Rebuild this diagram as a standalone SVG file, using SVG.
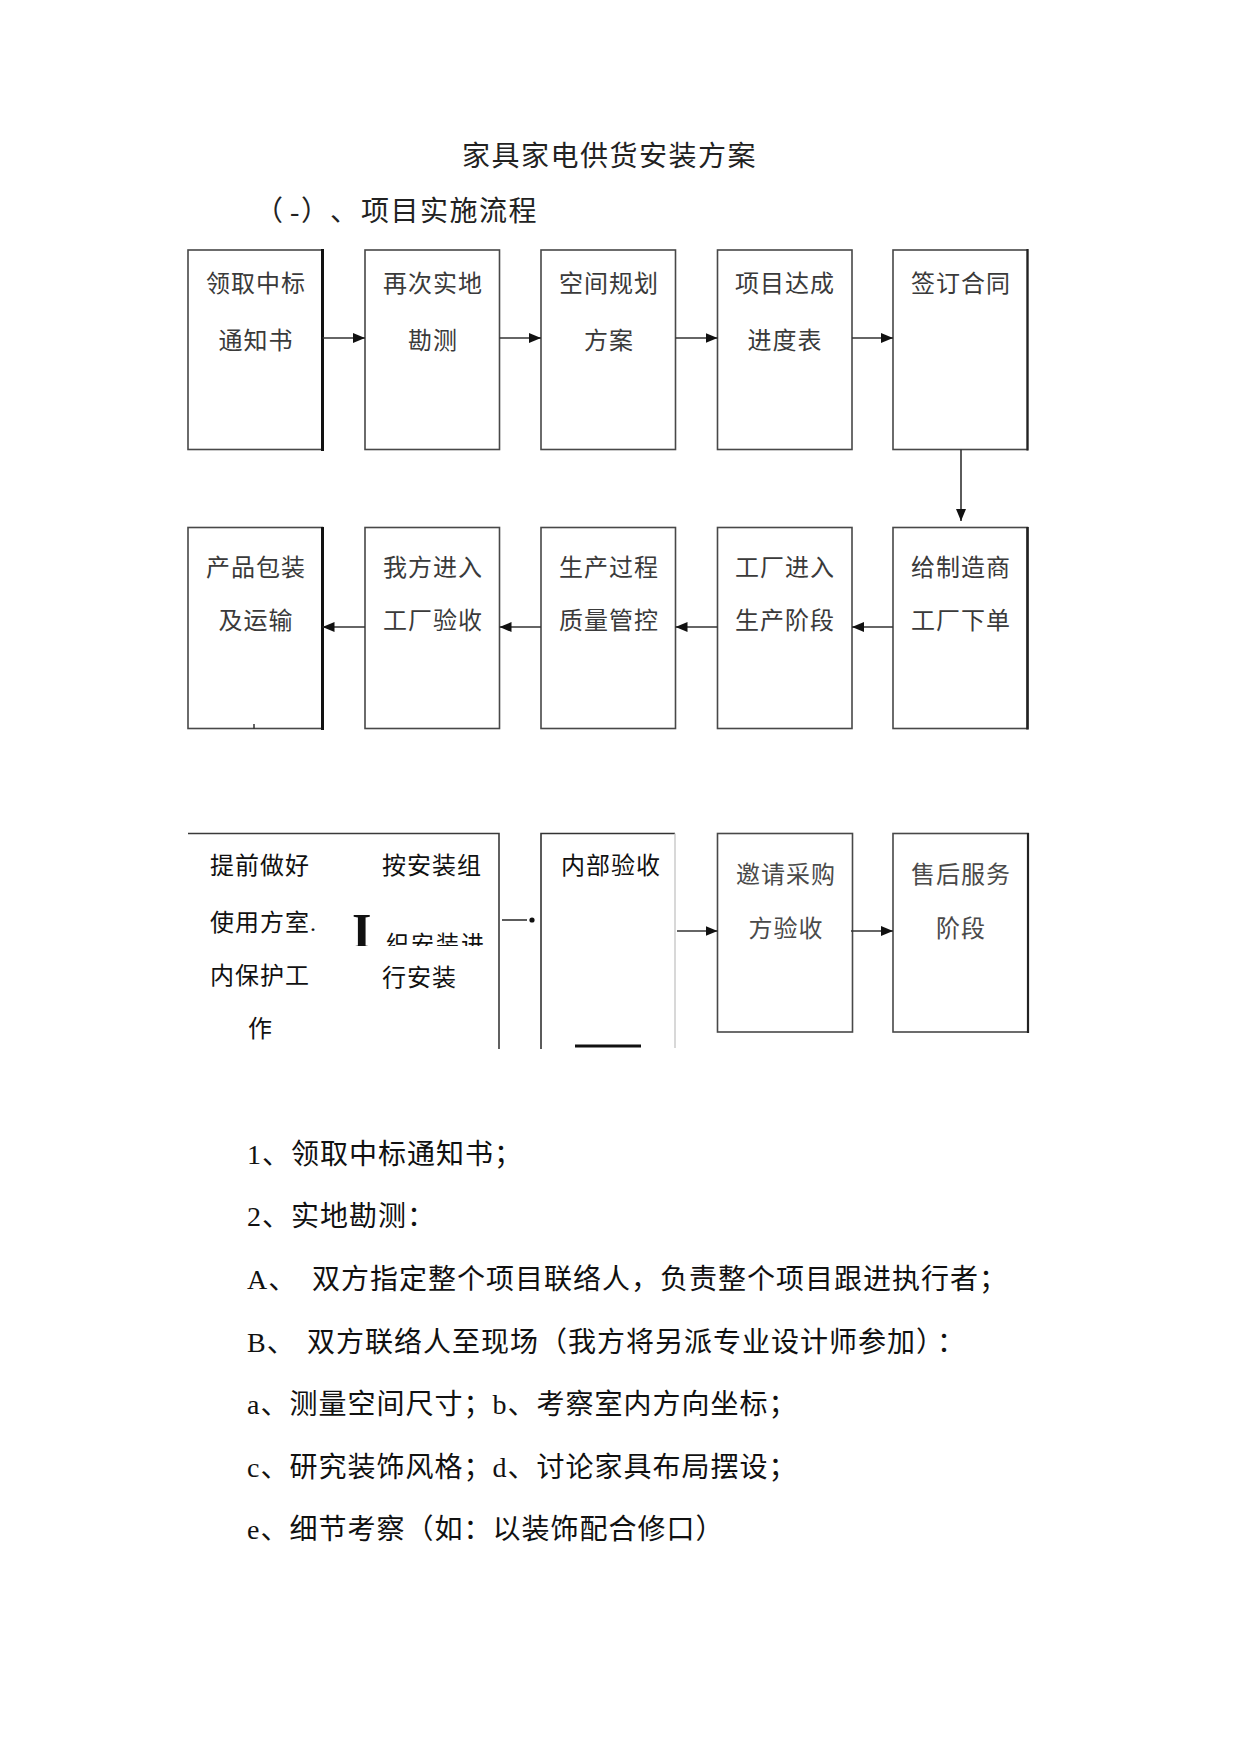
<svg xmlns="http://www.w3.org/2000/svg" width="1239" height="1754" viewBox="0 0 1239 1754">
<style>
text{font-family:"Noto Sans CJK SC","Liberation Serif",sans-serif;}
.lat{font-family:"Liberation Serif",serif;}
.title{font-size:28px;fill:#222;letter-spacing:1.5px;}
.body{font-size:28px;fill:#111;letter-spacing:1px;}
.bt{font-size:24px;fill:#3a3a3a;text-anchor:middle;letter-spacing:1px;}
.bt3{font-size:24px;fill:#111;letter-spacing:1px;}
.gr{fill:#4a4a4a;}
.box{fill:#fff;stroke:#484848;stroke-width:1.6;}
.conn{stroke:#333;stroke-width:1.6;fill:none;}
</style>
<defs>
<marker id="ah" markerUnits="userSpaceOnUse" markerWidth="14" markerHeight="12" refX="12" refY="6" orient="auto">
<path d="M0,1 L12,6 L0,11 Z" fill="#111"/>
</marker>
<clipPath id="clipI"><rect x="340" y="900" width="60" height="46"/></clipPath>
<clipPath id="clipL"><rect x="375" y="925" width="120" height="21"/></clipPath>
</defs>
<rect width="1239" height="1754" fill="#fff"/>

<g id="headings">
<text class="title" x="462" y="165.5">家具家电供货安装方案</text>
<text class="title" y="220.5"><tspan x="255">（</tspan><tspan class="lat" x="290">-</tspan><tspan x="301">）</tspan><tspan x="330">、</tspan><tspan x="361">项目实施流程</tspan></text>
</g>

<g id="n1"><rect class="box" x="188" y="250" width="134.5" height="199.5"/><line x1="322.5" y1="249" x2="322.5" y2="451" stroke="#111" stroke-width="3"/><text class="bt" x="256" y="292">领取中标</text><text class="bt" x="256" y="349">通知书</text></g>
<g id="n2"><rect class="box" x="365" y="250" width="134.5" height="199.5"/><text class="bt" x="433" y="292">再次实地</text><text class="bt" x="433" y="349">勘测</text></g>
<g id="n3"><rect class="box" x="541" y="250" width="134.5" height="199.5"/><text class="bt" x="609" y="292">空间规划</text><text class="bt" x="609" y="349">方案</text></g>
<g id="n4"><rect class="box" x="717.5" y="250" width="134.5" height="199.5"/><text class="bt" x="785" y="292">项目达成</text><text class="bt" x="785" y="349">进度表</text></g>
<g id="n5"><rect class="box" x="893" y="250" width="134.5" height="199.5"/><line x1="1027.5" y1="249" x2="1027.5" y2="450.5" stroke="#222" stroke-width="2.2"/><text class="bt" x="961" y="292">签订合同</text></g>

<g id="n6"><rect class="box" x="188" y="527.5" width="134.5" height="201"/><line x1="322.5" y1="527" x2="322.5" y2="730" stroke="#111" stroke-width="3"/><line x1="254" y1="724" x2="254" y2="729" stroke="#333" stroke-width="1.5"/><text class="bt" x="256" y="576">产品包装</text><text class="bt" x="256" y="629">及运输</text></g>
<g id="n7"><rect class="box" x="365" y="527.5" width="134.5" height="201"/><text class="bt" x="433" y="576">我方进入</text><text class="bt" x="433" y="629">工厂验收</text></g>
<g id="n8"><rect class="box" x="541" y="527.5" width="134.5" height="201"/><text class="bt" x="609" y="576">生产过程</text><text class="bt" x="609" y="629">质量管控</text></g>
<g id="n9"><rect class="box" x="717.5" y="527.5" width="134.5" height="201"/><text class="bt" x="785" y="576">工厂进入</text><text class="bt" x="785" y="629">生产阶段</text></g>
<g id="n10"><rect class="box" x="893" y="527.5" width="134.5" height="201"/><line x1="1027.5" y1="527" x2="1027.5" y2="729.5" stroke="#222" stroke-width="2.6"/><text class="bt" x="961" y="576">给制造商</text><text class="bt" x="961" y="629">工厂下单</text></g>

<g id="n11">
<path d="M188,833.5 H499 V1049" fill="none" stroke="#3a3a3a" stroke-width="1.6"/>
<text class="bt3" x="210" y="874">提前做好</text>
<text class="bt3" x="210" y="931">使用方室<tspan class="lat">.</tspan></text>
<text class="bt3" x="210" y="984">内保护工</text>
<text class="bt3" x="248" y="1037">作</text>
<text class="bt3" x="382" y="874">按安装组</text>
<text class="bt3" x="386" y="952" clip-path="url(#clipL)" style="font-size:23px;letter-spacing:2px;">织安装进</text>
<text class="bt3" x="382" y="986">行安装</text>
<text x="352" y="947.5" clip-path="url(#clipI)" style="font-family:'Liberation Serif',serif;font-weight:bold;font-size:50px;fill:#111;">I</text>
</g>
<g id="n12">
<path d="M541,1049 V833.5 H675" fill="none" stroke="#333" stroke-width="1.6"/>
<line x1="675" y1="833.5" x2="675" y2="1048" stroke="#c8c8c8" stroke-width="1.4"/>
<line x1="575" y1="1046" x2="641" y2="1046" stroke="#111" stroke-width="2.8"/>
<text class="bt3" x="561" y="874">内部验收</text>
</g>
<g id="n13"><rect class="box" x="717.5" y="833.5" width="135" height="198.5"/><text class="bt gr" x="786" y="883">邀请采购</text><text class="bt gr" x="786" y="937">方验收</text></g>
<g id="n14"><rect class="box" x="893" y="833.5" width="135" height="198.5"/><line x1="1028" y1="833" x2="1028" y2="1033" stroke="#222" stroke-width="2.2"/><text class="bt gr" x="961" y="883">售后服务</text><text class="bt gr" x="961" y="937">阶段</text></g>

<g id="connectors">
<line class="conn" x1="322.5" y1="338" x2="365" y2="338" marker-end="url(#ah)"/>
<line class="conn" x1="499.5" y1="338" x2="541" y2="338" marker-end="url(#ah)"/>
<line class="conn" x1="675.5" y1="338" x2="717.5" y2="338" marker-end="url(#ah)"/>
<line class="conn" x1="852" y1="338" x2="893" y2="338" marker-end="url(#ah)"/>
<line class="conn" x1="961" y1="449.5" x2="961" y2="521" marker-end="url(#ah)"/>
<line class="conn" x1="893" y1="627" x2="852" y2="627" marker-end="url(#ah)"/>
<line class="conn" x1="717.5" y1="627" x2="675.5" y2="627" marker-end="url(#ah)"/>
<line class="conn" x1="541" y1="627" x2="499.5" y2="627" marker-end="url(#ah)"/>
<line class="conn" x1="365" y1="627" x2="322.5" y2="627" marker-end="url(#ah)"/>
<line class="conn" x1="502" y1="920" x2="527" y2="920"/>
<circle cx="532" cy="920" r="2.6" fill="#111"/>
<line class="conn" x1="677" y1="931" x2="717.5" y2="931" marker-end="url(#ah)"/>
<line class="conn" x1="851" y1="931" x2="893" y2="931" marker-end="url(#ah)"/>
</g>

<g id="notes">
<text class="body" y="1164"><tspan class="lat" x="247">1</tspan>、领取中标通知书；</text>
<text class="body" y="1226"><tspan class="lat" x="247">2</tspan>、实地勘测：</text>
<text class="body" y="1289"><tspan class="lat" x="247">A</tspan><tspan>、</tspan><tspan x="312">双方指定整个项目联络人，负责整个项目跟进执行者；</tspan></text>
<text class="body" y="1351.5"><tspan class="lat" x="247">B</tspan><tspan>、</tspan><tspan x="307">双方联络人至现场（我方将另派专业设计师参加）</tspan><tspan dx="6">：</tspan></text>
<text class="body" y="1414"><tspan class="lat" x="247">a</tspan>、测量空间尺寸；<tspan class="lat">b</tspan>、考察室内方向坐标；</text>
<text class="body" y="1476.5"><tspan class="lat" x="247">c</tspan>、研究装饰风格；<tspan class="lat">d</tspan>、讨论家具布局摆设；</text>
<text class="body" y="1538.5"><tspan class="lat" x="247">e</tspan>、细节考察（如：以装饰配合修口）</text>
</g>
</svg>
